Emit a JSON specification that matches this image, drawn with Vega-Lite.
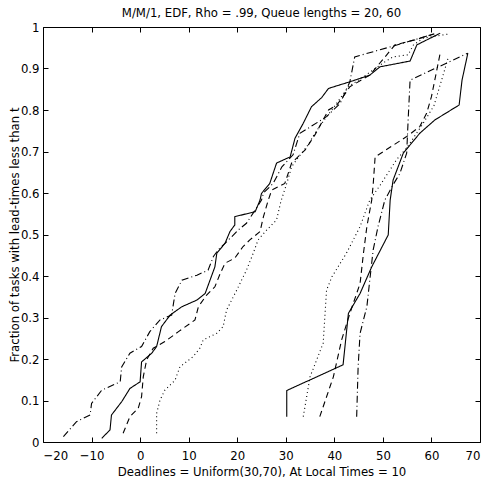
{
  "$schema": "https://vega.github.io/schema/vega-lite/v6.json",
  "autosize": "none",
  "width": 437,
  "height": 415,
  "padding": {"left": 43, "top": 27, "right": 3, "bottom": 40},
  "title": {"text": "M/M/1, EDF, Rho = .99, Queue lengths = 20, 60", "fontSize": 13, "fontWeight": "normal", "font": "Liberation Sans Narrow, DejaVu Sans Condensed, sans-serif", "color": "black", "baseline": "bottom", "offset": 7, "dy": 19},
  "datasets": {
    "curves": [
      {"s":"LS","st":"solid","i":0,"x":-7.9,"y":0.009},{"s":"LS","st":"solid","i":1,"x":-6.2,"y":0.029},{"s":"LS","st":"solid","i":2,"x":-5.9,"y":0.065},{"s":"LS","st":"solid","i":3,"x":-3.8,"y":0.097},{"s":"LS","st":"solid","i":4,"x":-2.1,"y":0.129},{"s":"LS","st":"solid","i":5,"x":0.0,"y":0.145},{"s":"LS","st":"solid","i":6,"x":0.3,"y":0.193},{"s":"LS","st":"solid","i":7,"x":2.4,"y":0.214},{"s":"LS","st":"solid","i":8,"x":3.4,"y":0.23},{"s":"LS","st":"solid","i":9,"x":4.4,"y":0.278},{"s":"LS","st":"solid","i":10,"x":6.2,"y":0.306},{"s":"LS","st":"solid","i":11,"x":8.6,"y":0.326},{"s":"LS","st":"solid","i":12,"x":11.7,"y":0.342},{"s":"LS","st":"solid","i":13,"x":13.4,"y":0.358},{"s":"LS","st":"solid","i":14,"x":14.4,"y":0.39},{"s":"LS","st":"solid","i":15,"x":15.4,"y":0.422},{"s":"LS","st":"solid","i":16,"x":15.8,"y":0.455},{"s":"LS","st":"solid","i":17,"x":17.5,"y":0.479},{"s":"LS","st":"solid","i":18,"x":18.5,"y":0.507},{"s":"LS","st":"solid","i":19,"x":19.5,"y":0.523},{"s":"LS","st":"solid","i":20,"x":19.5,"y":0.543},{"s":"LS","st":"solid","i":21,"x":23.7,"y":0.555},{"s":"LS","st":"solid","i":22,"x":24.7,"y":0.583},{"s":"LS","st":"solid","i":23,"x":25.0,"y":0.599},{"s":"LS","st":"solid","i":24,"x":26.7,"y":0.623},{"s":"LS","st":"solid","i":25,"x":28.1,"y":0.672},{"s":"LS","st":"solid","i":26,"x":30.9,"y":0.687},{"s":"LS","st":"solid","i":27,"x":31.9,"y":0.732},{"s":"LS","st":"solid","i":28,"x":33.6,"y":0.768},{"s":"LS","st":"solid","i":29,"x":35.3,"y":0.808},{"s":"LS","st":"solid","i":30,"x":37.4,"y":0.83},{"s":"LS","st":"solid","i":31,"x":38.8,"y":0.852},{"s":"LS","st":"solid","i":32,"x":43.2,"y":0.868},{"s":"LS","st":"solid","i":33,"x":47.3,"y":0.884},{"s":"LS","st":"solid","i":34,"x":49.4,"y":0.904},{"s":"LS","st":"solid","i":35,"x":55.6,"y":0.918},{"s":"LS","st":"solid","i":36,"x":57.0,"y":0.957},{"s":"LS","st":"solid","i":37,"x":61.8,"y":0.985},

      {"s":"LD","st":"dashed","i":0,"x":-3.5,"y":0.021},{"s":"LD","st":"dashed","i":1,"x":-2.1,"y":0.061},{"s":"LD","st":"dashed","i":2,"x":-0.4,"y":0.081},{"s":"LD","st":"dashed","i":3,"x":0.3,"y":0.109},{"s":"LD","st":"dashed","i":4,"x":0.65,"y":0.157},{"s":"LD","st":"dashed","i":5,"x":1.35,"y":0.198},{"s":"LD","st":"dashed","i":6,"x":2.7,"y":0.226},{"s":"LD","st":"dashed","i":7,"x":5.1,"y":0.242},{"s":"LD","st":"dashed","i":8,"x":7.9,"y":0.266},{"s":"LD","st":"dashed","i":9,"x":11.3,"y":0.294},{"s":"LD","st":"dashed","i":10,"x":12.0,"y":0.326},{"s":"LD","st":"dashed","i":11,"x":13.7,"y":0.354},{"s":"LD","st":"dashed","i":12,"x":15.4,"y":0.374},{"s":"LD","st":"dashed","i":13,"x":16.5,"y":0.406},{"s":"LD","st":"dashed","i":14,"x":17.5,"y":0.431},{"s":"LD","st":"dashed","i":15,"x":19.5,"y":0.443},{"s":"LD","st":"dashed","i":16,"x":21.2,"y":0.471},{"s":"LD","st":"dashed","i":17,"x":22.6,"y":0.487},{"s":"LD","st":"dashed","i":18,"x":24.7,"y":0.507},{"s":"LD","st":"dashed","i":19,"x":25.4,"y":0.543},{"s":"LD","st":"dashed","i":20,"x":26.4,"y":0.583},{"s":"LD","st":"dashed","i":21,"x":27.1,"y":0.607},{"s":"LD","st":"dashed","i":22,"x":29.8,"y":0.623},{"s":"LD","st":"dashed","i":23,"x":31.2,"y":0.672},{"s":"LD","st":"dashed","i":24,"x":34.0,"y":0.704},{"s":"LD","st":"dashed","i":25,"x":36.0,"y":0.74},{"s":"LD","st":"dashed","i":26,"x":37.7,"y":0.776},{"s":"LD","st":"dashed","i":27,"x":38.8,"y":0.8},{"s":"LD","st":"dashed","i":28,"x":40.5,"y":0.812},{"s":"LD","st":"dashed","i":29,"x":41.8,"y":0.832},{"s":"LD","st":"dashed","i":30,"x":43.2,"y":0.856},{"s":"LD","st":"dashed","i":31,"x":47.3,"y":0.884},{"s":"LD","st":"dashed","i":32,"x":50.8,"y":0.933},{"s":"LD","st":"dashed","i":33,"x":52.5,"y":0.957},{"s":"LD","st":"dashed","i":34,"x":56.6,"y":0.969},{"s":"LD","st":"dashed","i":35,"x":61.0,"y":0.985},

      {"s":"LT","st":"dotted","i":0,"x":3.4,"y":0.021},{"s":"LT","st":"dotted","i":1,"x":3.4,"y":0.069},{"s":"LT","st":"dotted","i":2,"x":4.1,"y":0.101},{"s":"LT","st":"dotted","i":3,"x":5.1,"y":0.125},{"s":"LT","st":"dotted","i":4,"x":7.2,"y":0.149},{"s":"LT","st":"dotted","i":5,"x":8.2,"y":0.181},{"s":"LT","st":"dotted","i":6,"x":10.95,"y":0.206},{"s":"LT","st":"dotted","i":7,"x":12.3,"y":0.226},{"s":"LT","st":"dotted","i":8,"x":13.0,"y":0.246},{"s":"LT","st":"dotted","i":9,"x":15.8,"y":0.262},{"s":"LT","st":"dotted","i":10,"x":17.1,"y":0.278},{"s":"LT","st":"dotted","i":11,"x":17.8,"y":0.318},{"s":"LT","st":"dotted","i":12,"x":19.9,"y":0.366},{"s":"LT","st":"dotted","i":13,"x":21.9,"y":0.414},{"s":"LT","st":"dotted","i":14,"x":23.3,"y":0.455},{"s":"LT","st":"dotted","i":15,"x":24.3,"y":0.487},{"s":"LT","st":"dotted","i":16,"x":26.1,"y":0.511},{"s":"LT","st":"dotted","i":17,"x":28.1,"y":0.535},{"s":"LT","st":"dotted","i":18,"x":29.0,"y":0.58},{"s":"LT","st":"dotted","i":19,"x":30.2,"y":0.623},{"s":"LT","st":"dotted","i":20,"x":31.2,"y":0.663},{"s":"LT","st":"dotted","i":21,"x":32.2,"y":0.68},{"s":"LT","st":"dotted","i":22,"x":34.6,"y":0.716},{"s":"LT","st":"dotted","i":23,"x":36.0,"y":0.744},{"s":"LT","st":"dotted","i":24,"x":38.4,"y":0.784},{"s":"LT","st":"dotted","i":25,"x":39.5,"y":0.8},{"s":"LT","st":"dotted","i":26,"x":42.9,"y":0.856},{"s":"LT","st":"dotted","i":27,"x":46.0,"y":0.88},{"s":"LT","st":"dotted","i":28,"x":48.4,"y":0.9},{"s":"LT","st":"dotted","i":29,"x":50.4,"y":0.916},{"s":"LT","st":"dotted","i":30,"x":52.1,"y":0.928},{"s":"LT","st":"dotted","i":31,"x":55.2,"y":0.933},{"s":"LT","st":"dotted","i":32,"x":56.3,"y":0.957},{"s":"LT","st":"dotted","i":33,"x":58.3,"y":0.973},{"s":"LT","st":"dotted","i":34,"x":63.5,"y":0.983},

      {"s":"LDD","st":"dashdot","i":0,"x":-15.8,"y":0.013},{"s":"LDD","st":"dashdot","i":1,"x":-13.1,"y":0.049},{"s":"LDD","st":"dashdot","i":2,"x":-10.3,"y":0.065},{"s":"LDD","st":"dashdot","i":3,"x":-10.0,"y":0.093},{"s":"LDD","st":"dashdot","i":4,"x":-7.9,"y":0.125},{"s":"LDD","st":"dashdot","i":5,"x":-4.1,"y":0.145},{"s":"LDD","st":"dashdot","i":6,"x":-3.8,"y":0.181},{"s":"LDD","st":"dashdot","i":7,"x":-2.1,"y":0.214},{"s":"LDD","st":"dashdot","i":8,"x":0.3,"y":0.23},{"s":"LDD","st":"dashdot","i":9,"x":2.0,"y":0.266},{"s":"LDD","st":"dashdot","i":10,"x":4.1,"y":0.294},{"s":"LDD","st":"dashdot","i":11,"x":6.5,"y":0.306},{"s":"LDD","st":"dashdot","i":12,"x":7.2,"y":0.358},{"s":"LDD","st":"dashdot","i":13,"x":8.6,"y":0.39},{"s":"LDD","st":"dashdot","i":14,"x":11.7,"y":0.402},{"s":"LDD","st":"dashdot","i":15,"x":14.0,"y":0.414},{"s":"LDD","st":"dashdot","i":16,"x":15.1,"y":0.447},{"s":"LDD","st":"dashdot","i":17,"x":16.1,"y":0.463},{"s":"LDD","st":"dashdot","i":18,"x":18.9,"y":0.495},{"s":"LDD","st":"dashdot","i":19,"x":20.2,"y":0.511},{"s":"LDD","st":"dashdot","i":20,"x":21.9,"y":0.527},{"s":"LDD","st":"dashdot","i":21,"x":23.7,"y":0.559},{"s":"LDD","st":"dashdot","i":22,"x":25.0,"y":0.583},{"s":"LDD","st":"dashdot","i":23,"x":25.4,"y":0.6},{"s":"LDD","st":"dashdot","i":24,"x":27.4,"y":0.623},{"s":"LDD","st":"dashdot","i":25,"x":29.2,"y":0.663},{"s":"LDD","st":"dashdot","i":26,"x":31.5,"y":0.692},{"s":"LDD","st":"dashdot","i":27,"x":32.9,"y":0.744},{"s":"LDD","st":"dashdot","i":28,"x":34.6,"y":0.756},{"s":"LDD","st":"dashdot","i":29,"x":38.4,"y":0.784},{"s":"LDD","st":"dashdot","i":30,"x":41.2,"y":0.816},{"s":"LDD","st":"dashdot","i":31,"x":43.2,"y":0.868},{"s":"LDD","st":"dashdot","i":32,"x":44.2,"y":0.928},{"s":"LDD","st":"dashdot","i":33,"x":51.5,"y":0.952},{"s":"LDD","st":"dashdot","i":34,"x":60.5,"y":0.983},

      {"s":"RS","st":"solid","i":0,"x":30.2,"y":0.061},{"s":"RS","st":"solid","i":1,"x":30.2,"y":0.124},{"s":"RS","st":"solid","i":2,"x":41.8,"y":0.186},{"s":"RS","st":"solid","i":3,"x":42.9,"y":0.31},{"s":"RS","st":"solid","i":4,"x":45.3,"y":0.358},{"s":"RS","st":"solid","i":5,"x":47.7,"y":0.422},{"s":"RS","st":"solid","i":6,"x":51.1,"y":0.499},{"s":"RS","st":"solid","i":7,"x":51.5,"y":0.583},{"s":"RS","st":"solid","i":8,"x":52.1,"y":0.631},{"s":"RS","st":"solid","i":9,"x":54.2,"y":0.696},{"s":"RS","st":"solid","i":10,"x":57.6,"y":0.744},{"s":"RS","st":"solid","i":11,"x":60.7,"y":0.776},{"s":"RS","st":"solid","i":12,"x":65.7,"y":0.812},{"s":"RS","st":"solid","i":13,"x":66.3,"y":0.872},{"s":"RS","st":"solid","i":14,"x":67.5,"y":0.937},

      {"s":"RD","st":"dashed","i":0,"x":37.0,"y":0.061},{"s":"RD","st":"dashed","i":1,"x":39.8,"y":0.157},{"s":"RD","st":"dashed","i":2,"x":41.5,"y":0.246},{"s":"RD","st":"dashed","i":3,"x":43.2,"y":0.31},{"s":"RD","st":"dashed","i":4,"x":45.3,"y":0.382},{"s":"RD","st":"dashed","i":5,"x":46.0,"y":0.455},{"s":"RD","st":"dashed","i":6,"x":46.7,"y":0.519},{"s":"RD","st":"dashed","i":7,"x":47.7,"y":0.583},{"s":"RD","st":"dashed","i":8,"x":48.0,"y":0.62},{"s":"RD","st":"dashed","i":9,"x":48.4,"y":0.687},{"s":"RD","st":"dashed","i":10,"x":54.9,"y":0.736},{"s":"RD","st":"dashed","i":11,"x":57.6,"y":0.76},{"s":"RD","st":"dashed","i":12,"x":59.0,"y":0.792},{"s":"RD","st":"dashed","i":13,"x":60.0,"y":0.832},{"s":"RD","st":"dashed","i":14,"x":61.1,"y":0.896},{"s":"RD","st":"dashed","i":15,"x":61.8,"y":0.937},

      {"s":"RT","st":"dotted","i":0,"x":33.6,"y":0.061},{"s":"RT","st":"dotted","i":1,"x":35.0,"y":0.157},{"s":"RT","st":"dotted","i":2,"x":37.7,"y":0.238},{"s":"RT","st":"dotted","i":3,"x":38.4,"y":0.366},{"s":"RT","st":"dotted","i":4,"x":39.5,"y":0.398},{"s":"RT","st":"dotted","i":5,"x":42.5,"y":0.455},{"s":"RT","st":"dotted","i":6,"x":45.3,"y":0.519},{"s":"RT","st":"dotted","i":7,"x":47.3,"y":0.583},{"s":"RT","st":"dotted","i":8,"x":49.5,"y":0.62},{"s":"RT","st":"dotted","i":9,"x":52.8,"y":0.68},{"s":"RT","st":"dotted","i":10,"x":55.0,"y":0.71},{"s":"RT","st":"dotted","i":11,"x":58.3,"y":0.768},{"s":"RT","st":"dotted","i":12,"x":60.5,"y":0.81},{"s":"RT","st":"dotted","i":13,"x":62.3,"y":0.88},{"s":"RT","st":"dotted","i":14,"x":63.5,"y":0.928},

      {"s":"RDD","st":"dashdot","i":0,"x":44.6,"y":0.061},{"s":"RDD","st":"dashdot","i":1,"x":44.9,"y":0.181},{"s":"RDD","st":"dashdot","i":2,"x":45.3,"y":0.262},{"s":"RDD","st":"dashdot","i":3,"x":46.7,"y":0.326},{"s":"RDD","st":"dashdot","i":4,"x":47.3,"y":0.39},{"s":"RDD","st":"dashdot","i":5,"x":48.0,"y":0.463},{"s":"RDD","st":"dashdot","i":6,"x":49.0,"y":0.519},{"s":"RDD","st":"dashdot","i":7,"x":50.4,"y":0.583},{"s":"RDD","st":"dashdot","i":8,"x":52.1,"y":0.62},{"s":"RDD","st":"dashdot","i":9,"x":53.5,"y":0.647},{"s":"RDD","st":"dashdot","i":10,"x":54.9,"y":0.696},{"s":"RDD","st":"dashdot","i":11,"x":55.2,"y":0.776},{"s":"RDD","st":"dashdot","i":12,"x":55.6,"y":0.872},{"s":"RDD","st":"dashdot","i":13,"x":67.5,"y":0.937}
    ],
    "frame": [{"x": -20, "y": 0}, {"x": 70, "y": 1}]
  },
  "layer": [
    {
      "data": {"name": "curves"},
      "mark": {"type": "line", "color": "black", "strokeWidth": 1.1},
      "encoding": {
        "x": {"field": "x", "type": "quantitative", "scale": {"domain": [-20, 70], "nice": false, "zero": false},
              "axis": {"orient": "bottom", "values": [-20,-10,0,10,20,30,40,50,60,70], "title": "Deadlines = Uniform(30,70), At Local Times = 10", "labelPadding": 12, "titlePadding": 3}},
        "y": {"field": "y", "type": "quantitative", "scale": {"domain": [0, 1], "nice": false},
              "axis": {"orient": "left", "values": [0,0.1,0.2,0.3,0.4,0.5,0.6,0.7,0.8,0.9,1], "format": "~g", "title": "Fraction of tasks with lead-times less than t", "labelPadding": 9, "titlePadding": -1}},
        "detail": {"field": "s"},
        "order": {"field": "i", "type": "quantitative"},
        "strokeDash": {"field": "st", "type": "nominal", "legend": null,
                       "scale": {"domain": ["solid", "dashed", "dotted", "dashdot"], "range": [[1, 0], [6, 4], [1, 3], [7, 3, 1, 3]]}}
      }
    },
    {
      "data": {"name": "frame"},
      "mark": {"type": "point", "opacity": 0},
      "encoding": {
        "x": {"field": "x", "type": "quantitative", "axis": {"orient": "top", "values": [-20,-10,0,10,20,30,40,50,60,70], "labels": false, "title": null}},
        "y": {"field": "y", "type": "quantitative", "axis": {"orient": "right", "values": [0,0.1,0.2,0.3,0.4,0.5,0.6,0.7,0.8,0.9,1], "labels": false, "title": null}}
      }
    }
  ],
  "resolve": {"axis": {"x": "independent", "y": "independent"}},
  "config": {
    "view": {"stroke": "black", "strokeWidth": 1},
    "axis": {
      "domain": false, "grid": false, "ticks": true, "tickSize": -5, "tickColor": "black", "tickWidth": 1,
      "labelFont": "Liberation Sans Narrow, DejaVu Sans Condensed, sans-serif", "labelFontSize": 13, "labelColor": "black",
      "titleFont": "Liberation Sans Narrow, DejaVu Sans Condensed, sans-serif", "titleFontSize": 13, "titleFontWeight": "normal", "titleColor": "black"
    }
  }
}
